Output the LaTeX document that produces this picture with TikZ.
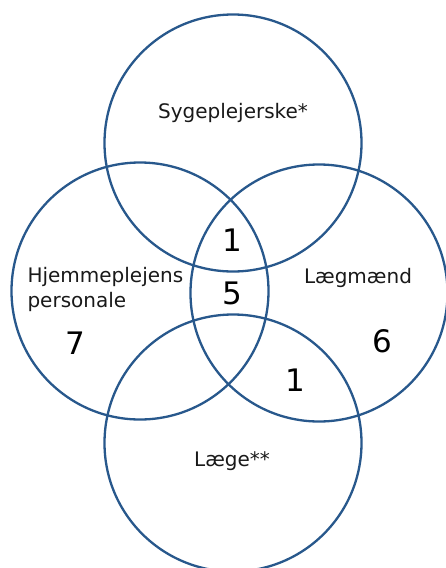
\documentclass[tikz,border=0pt]{standalone}
\usepackage{fontspec}
\setmainfont{DejaVu Sans}
\definecolor{vennblue}{RGB}{40,88,140}
\tikzset{
  set/.style={circle, draw=vennblue, line width=2.3pt, inner sep=0pt, minimum size=257pt},
  setlabel/.style={font=\fontsize{20}{25}\selectfont, text=black!90},
  count/.style={font=\fontsize{31}{34}\selectfont}
}
\begin{document}
\begin{tikzpicture}[x=1pt, y=-1pt]
    \useasboundingbox[fill=white] (0,0) rectangle (445,568);
    % the four sets
    \node[set] (syg) at (233,143) {};
    \node[set] (hjem) at (140,291) {};
    \node[set] (laeg) at (319,293) {};
    \node[set] (laege) at (233,443) {};
    % set names
    \node[setlabel] (sygname) at (233,113) {Sygeplejerske*};
    \node[setlabel, align=left, anchor=west] (hjemname) at (24,289) {Hjemmeplejens\\personale};
    \node[setlabel] (laegname) at (358,278) {Lægmænd};
    \node[setlabel] (laegename) at (232,461) {Læge**};
    % counts
    \node[count] (nA) at (232,240) {1};
    \node[count] (nB) at (232,293) {5};
    \node[count] (nC) at (75,343) {7};
    \node[count] (nD) at (382,341) {6};
    \node[count] (nE) at (295,380) {1};
\end{tikzpicture}
\end{document}
